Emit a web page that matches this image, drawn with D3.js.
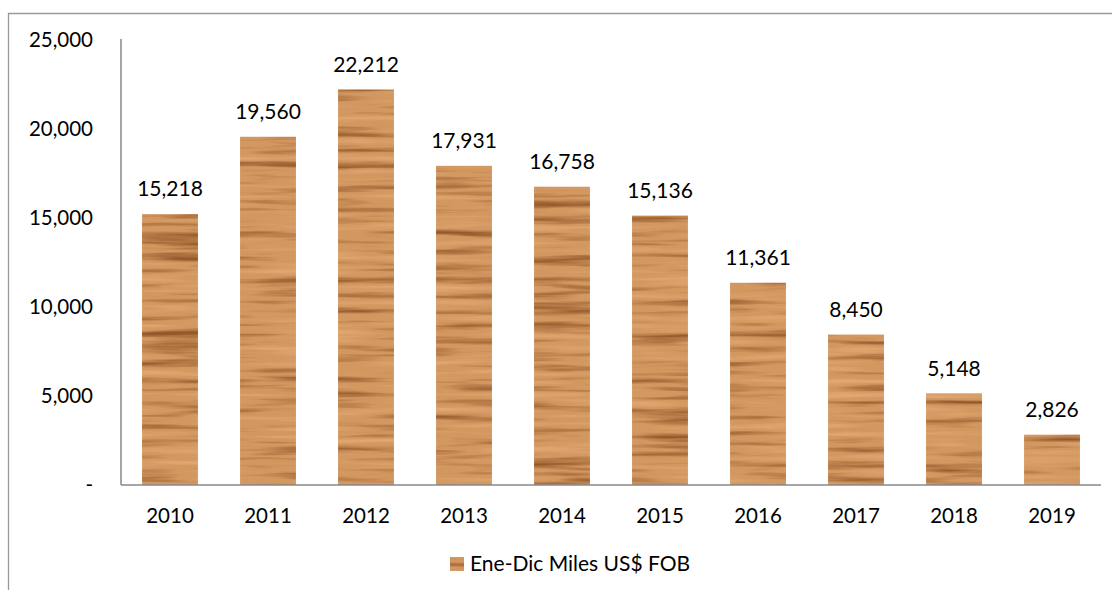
<!DOCTYPE html>
<html><head><meta charset="utf-8">
<script src="https://cdn.jsdelivr.net/npm/d3@7"></script>
<style>
body{margin:0;background:#fff;}
text{font-family:Lato,"Open Sans",sans-serif;fill:#000;}
</style></head>
<body>
<svg id="c" width="1112" height="590"></svg>
<script>
const years = ["2010","2011","2012","2013","2014","2015","2016","2017","2018","2019"];
const values = [15218,19560,22212,17931,16758,15136,11361,8450,5148,2826];
const tickValues = [0,5000,10000,15000,20000,25000];
const tickLabels = ["-","5,000","10,000","15,000","20,000","25,000"];
const seriesName = "Ene-Dic Miles US$ FOB";

const svg = d3.select("#c");
const defs = svg.append("defs");
const f = defs.append("filter").attr("id","wood").attr("x",0).attr("y",0).attr("width","100%").attr("height","100%")
  .attr("filterUnits","objectBoundingBox").attr("primitiveUnits","userSpaceOnUse")
  .attr("color-interpolation-filters","sRGB");
f.append("feTurbulence").attr("type","fractalNoise").attr("baseFrequency","0.008 0.13").attr("numOctaves",3).attr("seed",11).attr("result","noise0");
f.append("feGaussianBlur").attr("in","noise0").attr("stdDeviation","5 0.4").attr("result","noise");
f.append("feColorMatrix").attr("in","noise").attr("type","matrix")
  .attr("values","0 0 0 0 0.58  0 0 0 0 0.35  0 0 0 0 0.17  3.0 0 0 0 -1.55").attr("result","grain");
f.append("feComposite").attr("in","grain").attr("in2","SourceGraphic").attr("operator","in").attr("result","g2");
f.append("feColorMatrix").attr("in","noise").attr("type","matrix")
  .attr("values","0 0 0 0 0.90  0 0 0 0 0.69  0 0 0 0 0.48  -2.4 0 0 0 1.1").attr("result","light");
f.append("feComposite").attr("in","light").attr("in2","SourceGraphic").attr("operator","in").attr("result","l2");
const m = f.append("feMerge");
m.append("feMergeNode").attr("in","SourceGraphic");
m.append("feMergeNode").attr("in","l2");
m.append("feMergeNode").attr("in","g2");

// outer frame
svg.append("path").attr("d","M8.5,600 V13.5 H1120").attr("fill","none").attr("stroke","#999").attr("stroke-width",1.3);

const x0 = 121, x1 = 1101, yTop = 40, yBot = 485;
const x = d3.scaleBand().domain(years).range([x0,x1]).paddingInner(0.43).paddingOuter(0.215);
const y = d3.scaleLinear().domain([0,25000]).range([yBot,yTop]);

svg.append("line").attr("x1",x0).attr("x2",x0).attr("y1",yTop-1).attr("y2",yBot).attr("stroke","#888").attr("stroke-width",1.5);

// bars
svg.append("g").selectAll("rect").data(values).join("rect")
  .attr("x",(d,i)=>x(years[i])).attr("width",x.bandwidth())
  .attr("y",d=>y(d)).attr("height",d=>yBot-y(d))
  .attr("fill","#d39760").attr("filter","url(#wood)");

svg.append("line").attr("x1",x0).attr("x2",x1).attr("y1",yBot).attr("y2",yBot).attr("stroke","#888").attr("stroke-width",1.5);

// y tick labels
svg.append("g").selectAll("text").data(tickValues).join("text")
  .attr("x",93).attr("y",d=>y(d)).attr("dy","0.35em").attr("text-anchor","end")
  .attr("font-size",20.5).text((d,i)=>tickLabels[i]);

// x labels
svg.append("g").selectAll("text").data(years).join("text")
  .attr("x",d=>x(d)+x.bandwidth()/2).attr("y",516).attr("dy","0.35em").attr("text-anchor","middle")
  .attr("font-size",20.5).text(d=>d);

// data labels
svg.append("g").selectAll("text").data(values).join("text")
  .attr("x",(d,i)=>x(years[i])+x.bandwidth()/2).attr("y",d=>y(d)-25).attr("dy","0.35em").attr("text-anchor","middle")
  .attr("font-size",21).text(d=>d3.format(",")(d));

// legend
svg.append("rect").attr("x",450).attr("y",557).attr("width",14).attr("height",14).attr("fill","#d39760").attr("filter","url(#wood)");
svg.append("text").attr("x",470).attr("y",564).attr("dy","0.35em").attr("font-size",21).text(seriesName);
</script>
</body></html>
